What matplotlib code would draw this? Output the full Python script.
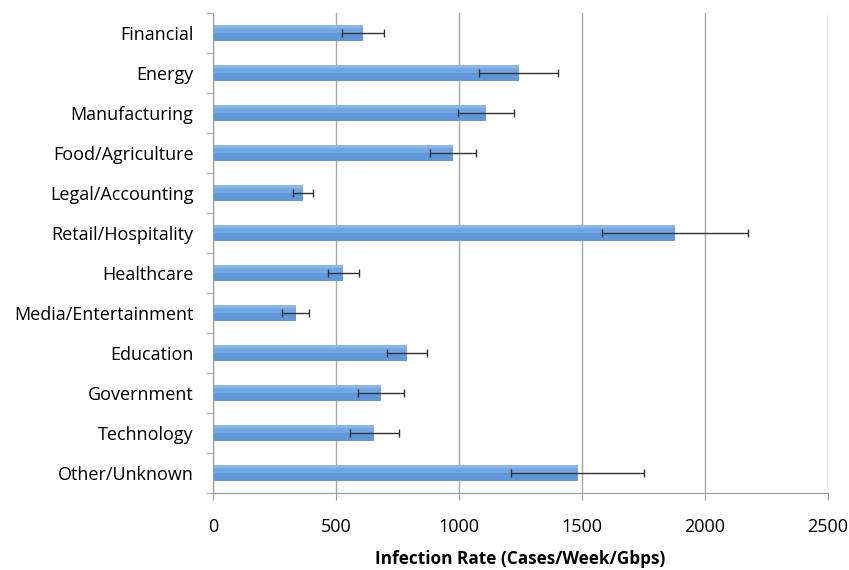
import numpy as np
import matplotlib.pyplot as plt

plt.rcParams['font.family'] = ['Open Sans', 'DejaVu Sans']

# data
sectors = ['Financial', 'Energy', 'Manufacturing', 'Food/Agriculture',
           'Legal/Accounting', 'Retail/Hospitality', 'Healthcare',
           'Media/Entertainment', 'Education', 'Government', 'Technology',
           'Other/Unknown']
rate = [611, 1242, 1110, 976, 366, 1877, 530, 336, 789, 683, 656, 1482]
err = [85, 162, 114, 94, 40, 296, 63, 54, 82, 94, 99, 272]

ypos = np.arange(len(sectors))

fig = plt.figure(figsize=(8.49, 5.70), dpi=100)
ax = fig.add_axes([213/849, 1 - 493/570, 615/849, 480/570])

bh = 0.42
ax.barh(ypos, rate, height=bh, color='#5f99dc', zorder=2)
# soft lighter band on the top part of each bar (glossy Excel look)
ax.barh(ypos - bh/4, rate, height=bh/2, color='#9cc2ec', alpha=0.35,
        linewidth=0, zorder=2)
ax.barh(ypos - bh*0.4, rate, height=bh/5, color='#b8d4f2', alpha=0.35,
        linewidth=0, zorder=2)
ax.errorbar(rate, ypos, xerr=err, fmt='none', ecolor='#333333',
            elinewidth=1, capsize=3, capthick=1, zorder=3)

ax.set_xlim(0, 2500)
ax.set_ylim(len(sectors) - 0.5, -0.5)
ax.set_xticks([0, 500, 1000, 1500, 2000, 2500])
ax.set_yticks(ypos)
ax.set_yticklabels(sectors)
ax.set_yticks(np.arange(-0.5, len(sectors)), minor=True)
ax.tick_params(axis='y', which='major', length=0, pad=14, labelsize=13)
ax.tick_params(axis='y', which='minor', length=5, color='#999999')
ax.tick_params(axis='x', length=5, color='#999999', pad=13, labelsize=13)

ax.grid(axis='x', color='#a6a6a6', linewidth=1, zorder=0)
for s in ['top', 'right']:
    ax.spines[s].set_visible(False)
for s in ['left', 'bottom']:
    ax.spines[s].set_color('#999999')

ax.set_xlabel('Infection Rate (Cases/Week/Gbps)', fontsize=12.4,
              fontweight='bold', labelpad=10)

plt.savefig('out.png', dpi=100)
